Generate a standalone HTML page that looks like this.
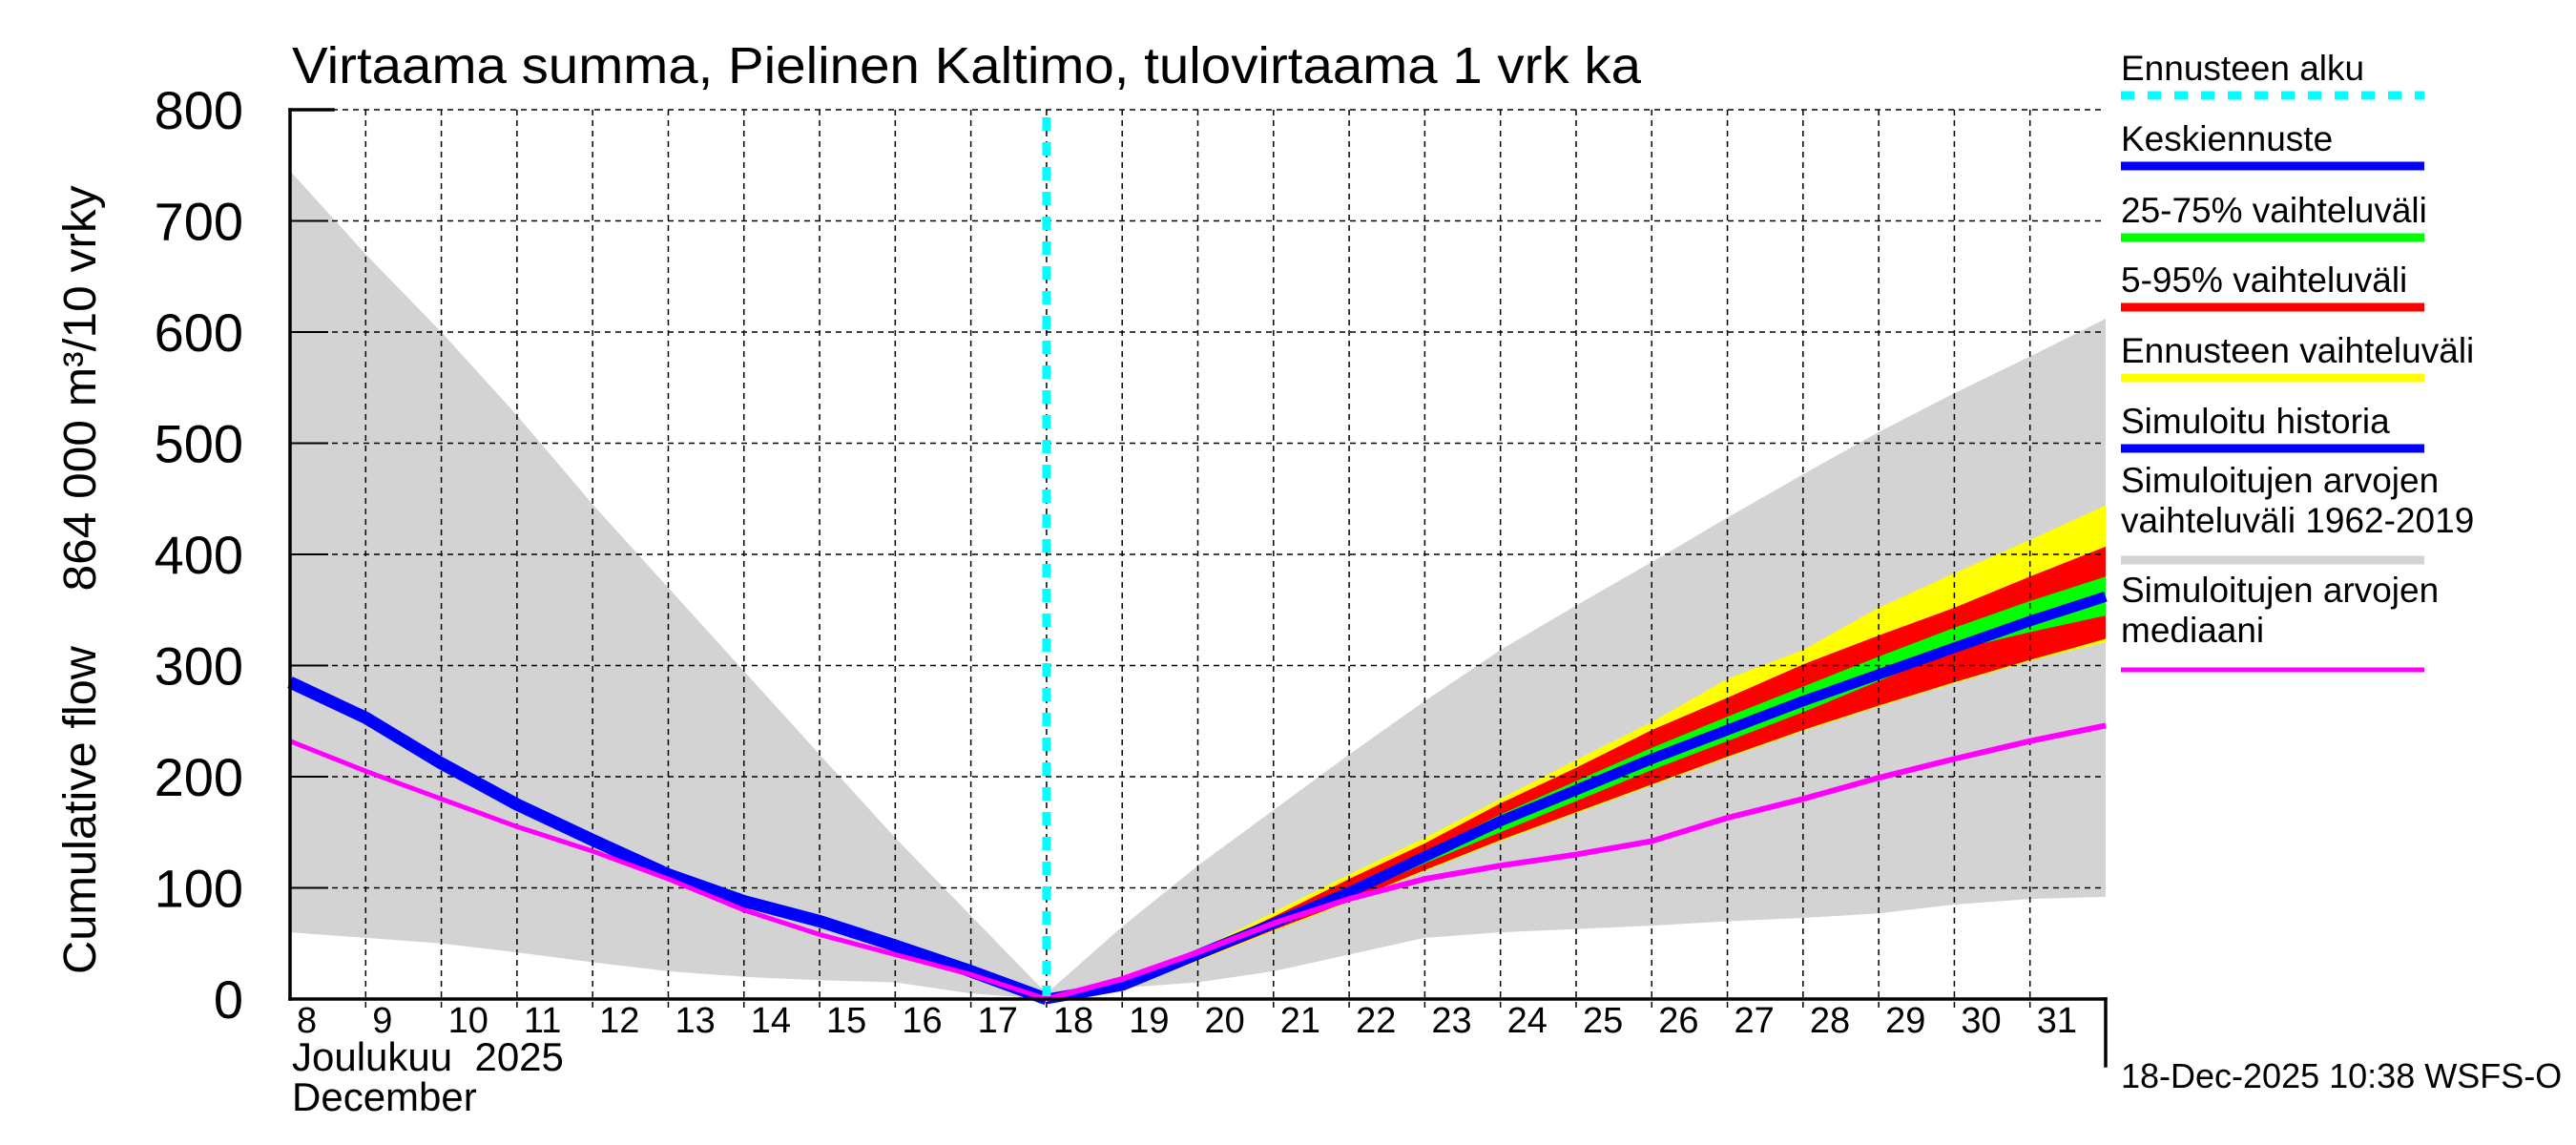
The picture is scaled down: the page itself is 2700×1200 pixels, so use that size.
<!DOCTYPE html>
<html><head><meta charset="utf-8"><style>
html,body{margin:0;padding:0;background:#fff;}
svg{display:block;font-family:"Liberation Sans",sans-serif;}
</style></head><body>
<svg id="chart" width="2700" height="1200" viewBox="0 0 2700 1200" xmlns="http://www.w3.org/2000/svg">
<text x="306" y="87" font-size="54" textLength="1414" lengthAdjust="spacingAndGlyphs">Virtaama summa, Pielinen Kaltimo, tulovirtaama 1 vrk ka</text>
<text transform="translate(100,849) rotate(-90)" text-anchor="middle" font-size="48" textLength="344" lengthAdjust="spacingAndGlyphs">Cumulative flow</text>
<text transform="translate(100,407) rotate(-90)" text-anchor="middle" font-size="48" textLength="425" lengthAdjust="spacingAndGlyphs">864 000 m³/10 vrky</text>
<g id="bands"></g>
<g id="grid"></g>
<g id="lines"></g>
<g id="axes"></g>
<g id="legend"></g>
<text x="306" y="1122" font-size="42" xml:space="preserve">Joulukuu  2025</text>
<text x="306" y="1164" font-size="42">December</text>
<text x="2223" y="1140" font-size="36">18-Dec-2025 10:38 WSFS-O</text>
</svg>
<script>
// day index 0 = Dec 8 ... 24 = Jan 1
const histDays = [0,1,2,3,4,5,6,7,8,9,10];
const histUpper = [745,670,600,525,445,370,295,220,145,75,5];
const histLower = [60,55,50,42,33,25,20,17,15,5,0];
const histSim = [285,253,212,175,143,112,88,70,48,25,0];
const histMedian = [232,205,180,155,133,108,80,58,40,22,0];
const fcDays = [10,11,12,13,14,15,16,17,18,19,20,21,22,23,24];
const fcGrayUpper = [5,65,120,170,220,268,314,354,393,433,472,510,545,578,612];
const fcGrayLower = [0,10,15,25,40,55,60,63,66,70,73,77,85,90,92];
const fcYellowUpper = [0,15,44,78,112,145,180,215,249,288,314,352,383,413,444];
const fcRedUpper = [0,14,42,74,108,140,176,208,242,271,301,327,352,380,407];
const fcGreenUpper = [0,12,40,70,100,132,166,196,226,254,281,308,334,358,380];
const fcMean = [0,12,40,68,96,128,160,188,216,242,268,292,316,340,362];
const fcGreenLower = [0,10,38,66,92,122,150,178,206,232,258,286,314,330,345];
const fcRedLower = [0,8,35,62,88,116,143,168,193,218,242,264,285,305,324];
const fcYellowLower = [0,8,34,61,87,115,142,167,192,217,241,263,284,304,321];
const fcMedian = [0,18,42,68,90,108,120,130,142,163,180,199,216,232,246];
const yTicks = [0,100,200,300,400,500,600,700,800];
const xTickLabels = ["8","9","10","11","12","13","14","15","16","17","18","19","20","21","22","23","24","25","26","27","28","29","30","31"];
const legendLabels = [["Ennusteen alku"],["Keskiennuste"],["25-75% vaihteluväli"],["5-95% vaihteluväli"],["Ennusteen vaihteluväli"],["Simuloitu historia"],["Simuloitujen arvojen","vaihteluväli 1962-2019"],["Simuloitujen arvojen","mediaani"]];

const X0=304, X1=2207, Y0=1047, Y1=115, NDAYS=24, YMAX=800;
const NS='http://www.w3.org/2000/svg';
function sx(d){return X0+(X1-X0)*d/NDAYS;}
function sy(v){return Y0-(Y0-Y1)*v/YMAX;}
function mk(tag,attrs,parent){const e=document.createElementNS(NS,tag);for(const k in attrs)e.setAttribute(k,attrs[k]);parent.appendChild(e);return e;}
function band(days,up,lo,fill,name){
  let pts=days.map((d,i)=>sx(d)+','+sy(up[i]));
  for(let i=days.length-1;i>=0;i--)pts.push(sx(days[i])+','+sy(lo[i]));
  const p=mk('polygon',{points:pts.join(' '),fill:fill},document.getElementById('bands'));
  
  
}
function line(days,vals,color,w,name){
  const p=mk('polyline',{points:days.map((d,i)=>sx(d)+','+sy(vals[i])).join(' '),fill:'none',stroke:color,'stroke-width':w,'stroke-linejoin':'round'},document.getElementById('lines'));
  
  
}
band(histDays,histUpper,histLower,'#d3d3d3','history-range-band');
band(fcDays,fcGrayUpper,fcGrayLower,'#d3d3d3','forecast-history-range-band');
band(fcDays,fcYellowUpper,fcYellowLower,'#ffff00','forecast-range-band');
band(fcDays,fcRedUpper,fcRedLower,'#ff0000','band-5-95');
band(fcDays,fcGreenUpper,fcGreenLower,'#00ff00','band-25-75');

const grid=document.getElementById('grid');
for(let d=1;d<NDAYS;d++){
  const l=mk('line',{x1:sx(d),x2:sx(d),y1:Y1,y2:Y0+10,stroke:'#000','stroke-width':1.5,'stroke-dasharray':'6,5'},grid);
  
  
}
yTicks.forEach(v=>{
  if(v>0){
    const l=mk('line',{x1:X0,x2:X1,y1:sy(v),y2:sy(v),stroke:'#000','stroke-width':1.5,'stroke-dasharray':'6,5'},grid);
    
    
    const t=mk('line',{x1:X0,x2:X0+40,y1:sy(v),y2:sy(v),stroke:'#000','stroke-width':2},grid);
    
    
  }
  const tx=mk('text',{x:255,y:sy(v)+20,'text-anchor':'end','font-size':56},grid);
  tx.textContent=v;
  
  
});
xTickLabels.forEach((s,i)=>{
  const t=mk('text',{x:sx(i)+7,y:1082,'font-size':38},grid);
  t.textContent=s;
  
  
});

line(histDays,histSim,'#0000ff',13,'simulated-history-line');
line(histDays,histMedian,'#ff00ff',5,'history-median-line');
line(fcDays,fcMean,'#0000ff',11,'forecast-mean-line');
line(fcDays,fcMedian,'#ff00ff',6,'forecast-median-line');
const cy=mk('line',{x1:sx(10),x2:sx(10),y1:Y1+8,y2:Y0-3,stroke:'#00ffff','stroke-width':9,'stroke-dasharray':'14,12'},document.getElementById('lines'));



const ax=document.getElementById('axes');
[[X0,Y1,X0,Y0],[X0,Y0,X1,Y0],[X1,Y0,X1,1117],[X0,Y1,349,Y1]].forEach(c=>{
  const l=mk('line',{x1:c[0],y1:c[1],x2:c[2],y2:c[3],stroke:'#000','stroke-width':3.5,'stroke-linecap':'square'},ax);
  
  
});

const lg=document.getElementById('legend');
const legColors=['#00ffff','#0000ff','#00ff00','#ff0000','#ffff00','#0000ff','#d3d3d3','#ff00ff'];
const legLineY=[100,174,249,322,396,470,587,702];
legendLabels.forEach((lines,i)=>{
  const y=legLineY[i];
  lines.forEach((s,j)=>{
    const base=lines.length===1? y-16 : y-(lines.length-j)*42+13;
    const t=mk('text',{x:2223,y:base,'font-size':37},lg);
    t.textContent=s;
    
    
  });
  const attrs={x1:2223,x2:2541,y1:y,y2:y,stroke:legColors[i],'stroke-width':i===7?5:9};
  if(i===0)attrs['stroke-dasharray']='14,14';
  const l=mk('line',attrs,lg);
  
  
});
</script>
</body></html>
